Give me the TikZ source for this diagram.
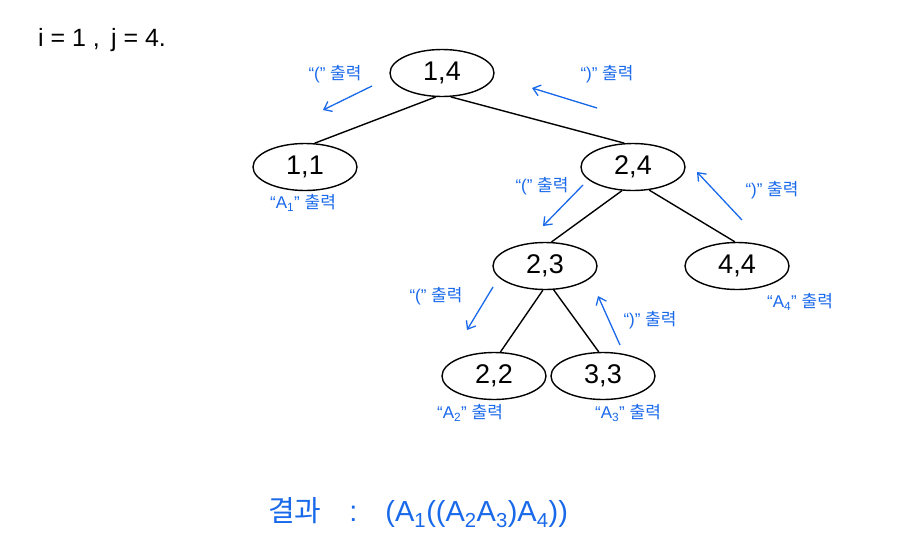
\documentclass[tikz,border=0pt]{standalone}
\usepackage{fontspec}
\setmainfont{Liberation Sans}
\newfontfamily\kr{Noto Sans CJK KR}
\usetikzlibrary{shapes.geometric,arrows.meta}
\definecolor{pen}{RGB}{25,105,235}
\tikzset{
  tnode/.style={ellipse,draw=black,line width=1.4pt,minimum width=104pt,minimum height=47pt,inner sep=0pt,font=\fontsize{27}{29}\selectfont},
  edge/.style={draw=black,line width=1.4pt},
  parr/.style={draw=pen,line width=1.3pt,-{Straight Barb[length=7pt,width=11pt]}},
  lbl/.style={text=pen,font=\fontsize{17}{19}\selectfont,inner sep=0pt},
}
\begin{document}
\begin{tikzpicture}[x=1pt,y=-1pt]
\useasboundingbox[fill=white] (0,0) rectangle (914,550);
\node[inner sep=0pt,font=\fontsize{25}{27}\selectfont] (ij) at (102,40) {i = 1 ,\, j = 4.};
\node[tnode] (n14) at (442,73) {1,4};
\node[tnode] (n11) at (305,167) {1,1};
\node[tnode] (n24) at (633,167) {2,4};
\node[tnode] (n23) at (545,266) {2,3};
\node[tnode] (n44) at (737,266) {4,4};
\node[tnode] (n22) at (494,376) {2,2};
\node[tnode] (n33) at (603,376) {3,3};
\draw[edge] (n14.255) -- (n11.68);
\draw[edge] (n14.290) -- (n24.110);
\draw[edge] (n24.245) -- (n23.75);
\draw[edge] (n24.305) -- (n44.95);
\draw[edge] (n23.265) -- (n22.75);
\draw[edge] (n23.290) -- (n33.100);
% blue labels
\node[lbl] (l1) at (335,74) {“(” {\kr 출력}};
\node[lbl] (l2) at (607,74) {“)” {\kr 출력}};
\node[lbl] (l3) at (542,186) {“(” {\kr 출력}};
\node[lbl] (l4) at (772,190) {“)” {\kr 출력}};
\node[lbl] (l5) at (436,296) {“(” {\kr 출력}};
\node[lbl] (l6) at (650,320) {“)” {\kr 출력}};
\node[lbl] (a1) at (303,203) {“A\textsubscript{1}” {\kr 출력}};
\node[lbl] (a4) at (800,302) {“A\textsubscript{4}” {\kr 출력}};
\node[lbl] (a2) at (470,413) {“A\textsubscript{2}” {\kr 출력}};
\node[lbl] (a3) at (628,413) {“A\textsubscript{3}” {\kr 출력}};
% blue arrows
\coordinate (p1s) at (372,86); \coordinate (p1e) at (323,110);
\coordinate (p2s) at (597,108); \coordinate (p2e) at (532,88);
\coordinate (p3s) at (583,185); \coordinate (p3e) at (543,226);
\coordinate (p4s) at (742,220); \coordinate (p4e) at (697,172);
\coordinate (p5s) at (493,287); \coordinate (p5e) at (467,330);
\coordinate (p6s) at (620,345); \coordinate (p6e) at (598,296);
\draw[parr] (p1s) -- (p1e);
\draw[parr] (p2s) -- (p2e);
\draw[parr] (p3s) -- (p3e);
\draw[parr] (p4s) -- (p4e);
\draw[parr] (p5s) -- (p5e);
\draw[parr] (p6s) -- (p6e);
\node[text=pen,inner sep=0pt,font=\fontsize{29}{31}\selectfont] (res) at (418,513) {{\kr 결과}\hspace{28pt}:\hspace{28pt}(A\textsubscript{1}((A\textsubscript{2}A\textsubscript{3})A\textsubscript{4}))};
\end{tikzpicture}
\end{document}
